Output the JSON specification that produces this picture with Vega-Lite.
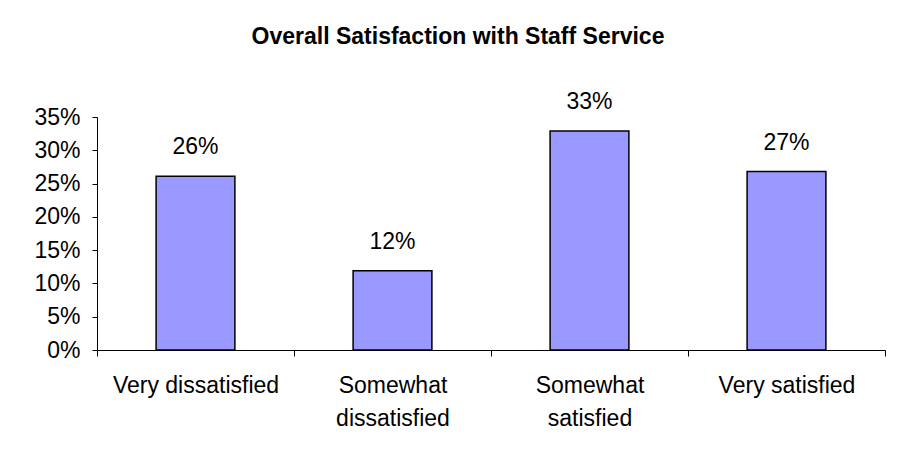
{
  "$schema": "https://vega.github.io/schema/vega-lite/v6.json",
  "autosize": {"type": "none"},
  "width": 788,
  "height": 233,
  "padding": {"left": 97, "top": 117, "right": 12, "bottom": 118},
  "background": "white",
  "title": {
    "text": "Overall Satisfaction with Staff Service",
    "font": "Liberation Sans",
    "fontSize": 23,
    "fontWeight": "bold",
    "color": "black",
    "anchor": "middle",
    "baseline": "bottom",
    "offset": 19,
    "dx": -33
  },
  "data": {
    "values": [
      {"category": "Very dissatisfied", "value": 0.261},
      {"category": "Somewhat dissatisfied", "value": 0.119},
      {"category": "Somewhat satisfied", "value": 0.329},
      {"category": "Very satisfied", "value": 0.268}
    ]
  },
  "config": {
    "view": {"stroke": null},
    "font": "Liberation Sans"
  },
  "encoding": {
    "x": {
      "field": "category",
      "type": "nominal",
      "sort": null,
      "scale": {"paddingInner": 0, "paddingOuter": 0},
      "axis": {
        "title": null,
        "labelAngle": 0,
        "labelFont": "Liberation Sans",
        "labelFontSize": 23,
        "labelColor": "black",
        "labelPadding": 18,
        "labelLineHeight": 33,
        "labelBaseline": "top",
        "tickBand": "extent",
        "tickSize": 6,
        "tickColor": "black",
        "domainColor": "black",
        "labelExpr": "indexof(datum.label, 'Somewhat') == 0 ? split(datum.label, ' ') : datum.label"
      }
    },
    "y": {
      "field": "value",
      "type": "quantitative",
      "scale": {"domain": [0, 0.35], "nice": false},
      "axis": {
        "title": null,
        "format": ".0%",
        "values": [0, 0.05, 0.1, 0.15, 0.2, 0.25, 0.3, 0.35],
        "grid": false,
        "labelFont": "Liberation Sans",
        "labelFontSize": 23,
        "labelColor": "black",
        "labelPadding": 12,
        "tickSize": 5,
        "tickColor": "black",
        "domainColor": "black"
      }
    }
  },
  "layer": [
    {
      "mark": {"type": "bar", "width": {"band": 0.4}, "fill": "#9999FF", "stroke": "black", "strokeWidth": 1.5}
    },
    {
      "mark": {"type": "text", "baseline": "middle", "dy": -29, "fontSize": 23, "font": "Liberation Sans", "color": "black"},
      "encoding": {
        "text": {"field": "value", "type": "quantitative", "format": ".0%"}
      }
    }
  ]
}
